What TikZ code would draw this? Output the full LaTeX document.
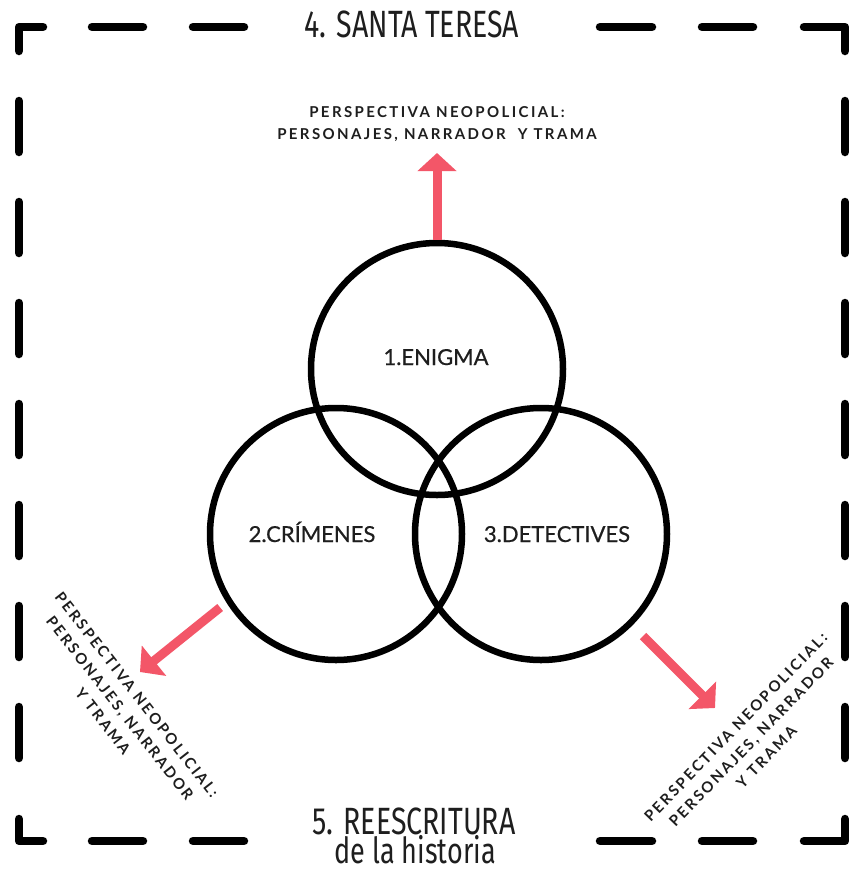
\documentclass[tikz,border=0pt]{standalone}
\usepackage{fontspec}
\setmainfont{Lato}
\newfontfamily\titlefont[FakeStretch=0.75]{Fira Sans}
\newfontfamily\smallfont[LetterSpace=16]{Lato}
\newfontfamily\lblfont[FakeBold=0.6]{Lato}
\usetikzlibrary{arrows.meta}
\definecolor{arrowred}{RGB}{243,86,104}
\definecolor{ink}{RGB}{30,30,30}
\begin{document}
\begin{tikzpicture}[x=1pt,y=-1pt,
  frame/.style={line width=8.5pt, line cap=round, line join=round, black},
  ring/.style={circle, draw=black, line width=6.5pt, minimum size=252pt, inner sep=0pt},
  lbl/.style={anchor=base, inner sep=0pt, text=ink, font=\lblfont\fontsize{22}{26}\selectfont},
  title/.style={anchor=base, inner sep=0pt, text=ink, font=\titlefont\fontsize{38}{40}\selectfont},
  subtitle/.style={anchor=base, inner sep=0pt, text=ink, font=\titlefont\fontsize{36}{40}\selectfont},
  smalllbl/.style={align=center, inner sep=0pt, text=ink, font=\smallfont\bfseries\fontsize{15}{21.5}\selectfont},
  redarrow/.style={draw=arrowred, line width=9pt, -{Triangle[length=18pt,width=38pt]}}]
\useasboundingbox[fill=white] (0,0) rectangle (849,871);
% frame
\draw[frame] (43,27) -- (19,27) -- (19,51);
\draw[frame] (804,27) -- (845,27) -- (845,51);
\draw[frame] (19,819) -- (19,841) -- (43,841);
\draw[frame] (804,841) -- (845,841) -- (845,819);
\foreach \a/\b in {92/143,193/244,600/652,702/753}{
  \draw[frame] (\a,27) -- (\b,27);
  \draw[frame] (\a,841) -- (\b,841);
}
\foreach \a in {101,202,303,404,505,606,707}{
  \draw[frame] (19,\a) -- (19,\a+51);
  \draw[frame] (845,\a) -- (845,\a+51);
}
% titles
\node[title] (t4) at (412,37) {4. SANTA TERESA};
\node[title] (t5) at (414,834) {5. REESCRITURA};
\node[subtitle] (t5b) at (415,863) {de la historia};
% circles
\node[ring] (A) at (437,369) {};
\node[ring] (B) at (336,534) {};
\node[ring] (C) at (541,534) {};
\node[lbl] (la) at (436,365) {1.ENIGMA};
\node[lbl] (lb) at (312,542) {2.CRÍMENES};
\node[lbl] (lc) at (557,542) {3.DETECTIVES};
% arrows
\coordinate (tt) at (437,153);
\coordinate (lt) at (140,672);
\coordinate (rt) at (715,708);
\draw[redarrow] (A.north) -- (tt);
\draw[redarrow, shorten <=8pt] (B.212) -- (lt);
\draw[redarrow, shorten <=15pt] (C.-45.6) -- (rt);
% perspective labels
\node[smalllbl] (pt) at (437,124) {PERSPECTIVA NEOPOLICIAL:\\PERSONAJES, NARRADOR\ \ Y TRAMA};
\node[smalllbl, rotate=-52] (pl) at (120,708) {PERSPECTIVA NEOPOLICIAL:\\PERSONAJES, NARRADOR\\Y TRAMA};
\node[smalllbl, rotate=46] (pr) at (751,742) {PERSPECTIVA NEOPOLICIAL:\\PERSONAJES, NARRADOR\\Y TRAMA};
\end{tikzpicture}
\end{document}
